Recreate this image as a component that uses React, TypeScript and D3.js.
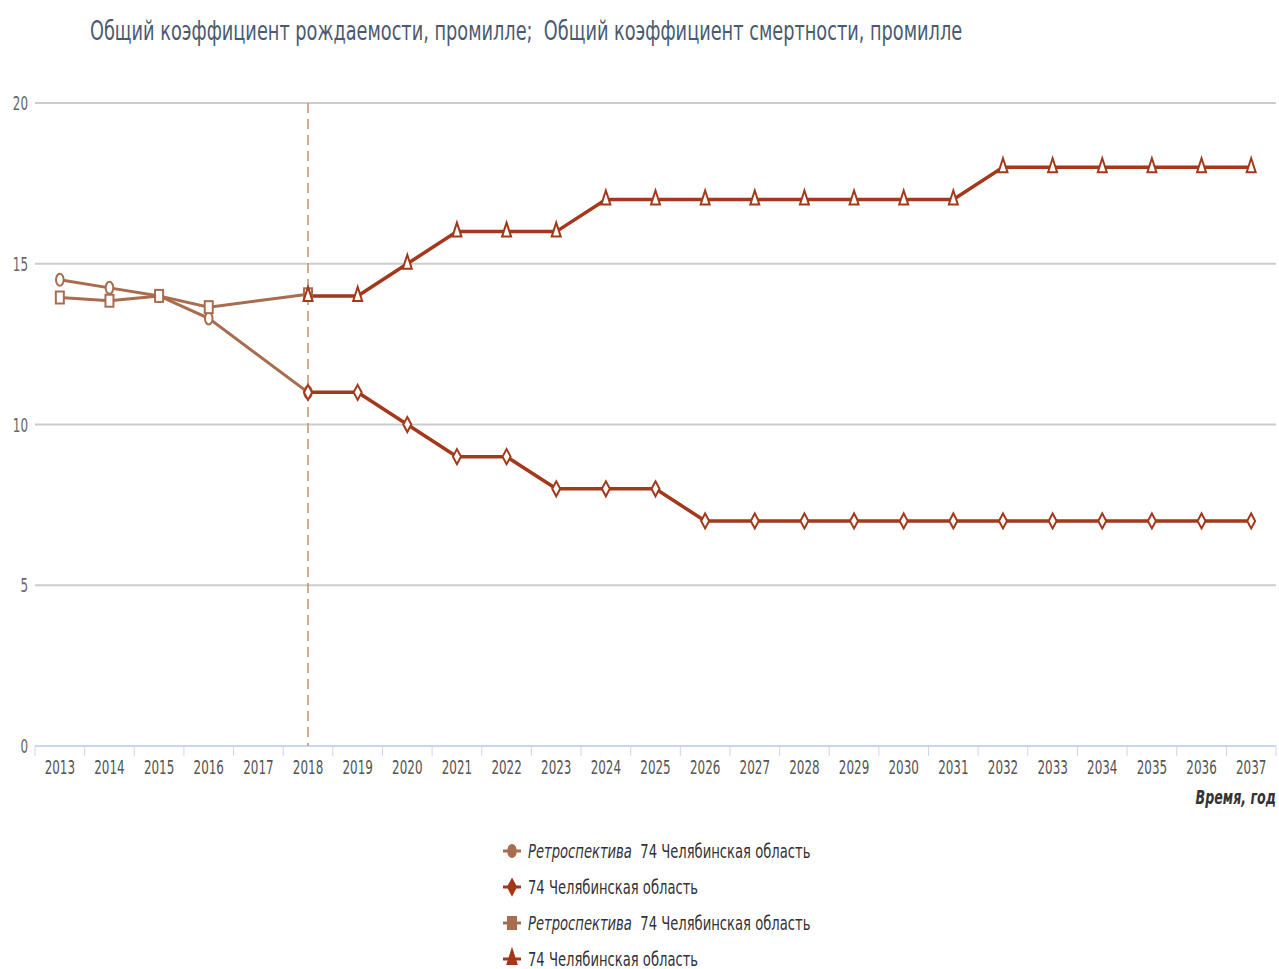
import React from "react";
import * as d3 from "d3";

const years = d3.range(2013, 2038).map(String);
const yTicks = [0, 5, 10, 15, 20];

const retroBirthYears = ["2013", "2014", "2015", "2016", "2018"];
const retroBirthValues = [14.5, 14.25, 14.0, 13.3, 11.0];

const forecastBirthYears = d3.range(2018, 2038).map(String);
const forecastBirthValues = [11, 11, 10, 9, 9, 8, 8, 8, 7, 7, 7, 7, 7, 7, 7, 7, 7, 7, 7, 7];

const retroDeathYears = ["2013", "2014", "2015", "2016", "2018"];
const retroDeathValues = [13.95, 13.85, 14.0, 13.65, 14.05];

const forecastDeathYears = d3.range(2018, 2038).map(String);
const forecastDeathValues = [14, 14, 15, 16, 16, 16, 17, 17, 17, 17, 17, 17, 17, 17, 18, 18, 18, 18, 18, 18];

const title = "Общий коэффициент рождаемости, промилле;  Общий коэффициент смертности, промилле";
const xTitle = "Время, год";
const legendItems = [
  { italic: "Ретроспектива", text: "74 Челябинская область", kind: "circle", color: "retro" },
  { italic: "", text: "74 Челябинская область", kind: "diamond", color: "fore" },
  { italic: "Ретроспектива", text: "74 Челябинская область", kind: "square", color: "retro" },
  { italic: "", text: "74 Челябинская область", kind: "triangle", color: "fore" },
];

const RETRO = "#a86c4e";
const FORE = "#a3381b";
const FONT = "'DejaVu Sans Condensed', 'DejaVu Sans', sans-serif";

function SText({ x, y, sx, children, ...rest }: any) {
  return (
    <text transform={`translate(${x},${y}) scale(${sx},1)`} style={{ whiteSpace: "pre" }} {...rest}>
      {children}
    </text>
  );
}

function Marker({ kind, x, y, color, fill = "#fff" }: { kind: string; x: number; y: number; color: string; fill?: string }) {
  const sw = 2;
  if (kind === "circle") return <ellipse cx={x} cy={y} rx={3.8} ry={6} fill={fill} stroke={color} strokeWidth={sw} />;
  if (kind === "square") return <rect x={x - 4} y={y - 6} width={8} height={12} fill={fill} stroke={color} strokeWidth={sw} />;
  if (kind === "diamond")
    return <path d={`M${x},${y - 7.5}L${x + 4},${y}L${x},${y + 7.5}L${x - 4},${y}Z`} fill={fill} stroke={color} strokeWidth={sw} />;
  return <path d={`M${x},${y - 9}L${x + 4.5},${y + 5}L${x - 4.5},${y + 5}Z`} fill={fill} stroke={color} strokeWidth={sw} />;
}

export default function App() {
  const left = 35, right = 1276, top = 103, bottom = 746;
  const x = d3.scaleBand<string>().domain(years).range([left, right]);
  const cx = (yr: string) => (x(yr) as number) + x.bandwidth() / 2;
  const y = d3.scaleLinear().domain([0, 20]).range([bottom, top]);

  const line = d3
    .line<[string, number]>()
    .x((d) => cx(d[0]))
    .y((d) => y(d[1]));

  const series = [
    { yrs: retroBirthYears, vals: retroBirthValues, color: RETRO, kind: "circle", w: 3 },
    { yrs: retroDeathYears, vals: retroDeathValues, color: RETRO, kind: "square", w: 3 },
    { yrs: forecastBirthYears, vals: forecastBirthValues, color: FORE, kind: "diamond", w: 3.5 },
    { yrs: forecastDeathYears, vals: forecastDeathValues, color: FORE, kind: "triangle", w: 3.5 },
  ];

  const boundaries = years.map((yr) => x(yr) as number).concat([right]);

  return (
    <svg width={1279} height={969} style={{ position: "absolute", left: 0, top: 0, background: "#fff" }} fontFamily={FONT}>
      <SText x={90} y={40} sx={0.73} fontSize={27} fill="#4a5a70">{title}</SText>

      {yTicks.map((t) => (
        <g key={t}>
          {t > 0 && <line x1={left} x2={right} y1={y(t)} y2={y(t)} stroke="#cccccc" strokeWidth={2} />}
          <SText x={28} y={y(t) + 7} sx={0.7} textAnchor="end" fontSize={19} fill="#666">{t}</SText>
        </g>
      ))}

      <line x1={left} x2={right} y1={bottom} y2={bottom} stroke="#ccd6eb" strokeWidth={2} />
      {boundaries.map((b, i) => (
        <line key={i} x1={b} x2={b} y1={bottom} y2={bottom + 10} stroke="#ccd6eb" strokeWidth={1} />
      ))}
      {years.map((yr) => (
        <SText key={yr} x={cx(yr)} y={774} sx={0.7} textAnchor="middle" fontSize={19} fill="#555">{yr}</SText>
      ))}
      <SText x={right} y={804} sx={0.74} textAnchor="end" fontSize={19} fontWeight="bold" fontStyle="italic" fill="#333">{xTitle}</SText>

      <line x1={cx("2018")} x2={cx("2018")} y1={top} y2={bottom} stroke="#c8906c" strokeWidth={1.5} strokeDasharray="10,6" />

      {series.map((s, i) => (
        <path key={i} d={line(s.yrs.map((yr, j) => [yr, s.vals[j]] as [string, number])) || ""} fill="none" stroke={s.color} strokeWidth={s.w} />
      ))}
      {series.map((s, i) => (
        <g key={"m" + i}>
          {s.yrs.map((yr, j) => (
            <Marker key={yr} kind={s.kind} x={cx(yr)} y={y(s.vals[j])} color={s.color} />
          ))}
        </g>
      ))}

      {legendItems.map((it, i) => {
        const ly = 851 + i * 36;
        const col = it.color === "retro" ? RETRO : FORE;
        return (
          <g key={i}>
            <line x1={503} x2={521} y1={ly} y2={ly} stroke={col} strokeWidth={3} />
            <Marker kind={it.kind} x={512} y={ly} color={col} fill={col} />
            <SText x={528} y={ly + 7} sx={0.77} fontSize={19} fill="#333">
              {it.italic && <tspan fontStyle="italic">{it.italic}</tspan>}
              {it.italic ? "  " + it.text : it.text}
            </SText>
          </g>
        );
      })}
    </svg>
  );
}
